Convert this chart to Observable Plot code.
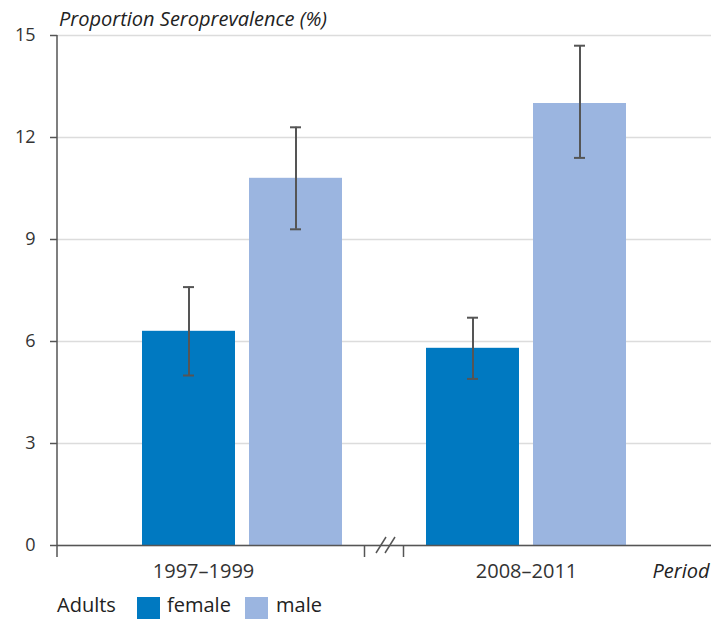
<!DOCTYPE html>
<html><head><meta charset="utf-8">
<script src="https://cdn.jsdelivr.net/npm/d3@7"></script>
<script src="https://cdn.jsdelivr.net/npm/@observablehq/plot@0.6"></script>
<style>
body{margin:0;background:#fff;font-family:"Open Sans",sans-serif;color:#222;}
#wrap{position:relative;width:711px;height:619px;overflow:hidden;}
.title{height:18px;padding-top:10px;padding-left:59px;font-size:20px;line-height:18px;font-style:italic;white-space:nowrap;color:#222;}
#chart svg{display:block;}
#legend{position:relative;height:34px;font-size:20px;}
#legend span{position:absolute;top:3px;line-height:34px;white-space:nowrap;color:#222;}
#legend i{position:absolute;top:12px;width:23px;height:22px;}
</style></head>
<body>
<div id="wrap">
  <div class="title" id="title"></div>
  <div id="chart"></div>
  <div id="legend"></div>
</div>
<script>
const periods = ["1997–1999", "2008–2011"];
const sexes = ["female", "male"];
const femaleValues = [6.3, 5.8];
const femaleLow = [5.0, 4.9];
const femaleHigh = [7.6, 6.7];
const maleValues = [10.8, 13.0];
const maleLow = [9.3, 11.4];
const maleHigh = [12.3, 14.7];
const yTicks = [0, 3, 6, 9, 12, 15];
const colors = ["#0079c1", "#9bb5e0"];
const yLabel = "Proportion Seroprevalence (%)";
const xLabel = "Period";
const legendTitle = "Adults";

const female = periods.map((p, i) => ({period: p, sex: "female", value: femaleValues[i], low: femaleLow[i], high: femaleHigh[i]}));
const male = periods.map((p, i) => ({period: p, sex: "male", value: maleValues[i], low: maleLow[i], high: maleHigh[i]}));

document.getElementById("title").textContent = yLabel;

const errStyle = {stroke: "#555", strokeWidth: 2};
const plot = Plot.plot({
  width: 711, height: 557,
  marginLeft: 57, marginRight: 0, marginTop: 7, marginBottom: 40,
  style: {fontFamily: '"Open Sans", sans-serif', fontSize: "20px", color: "#333", background: "transparent", overflow: "visible"},
  x: {type: "band", domain: periods, paddingInner: 0.2267, paddingOuter: 0.2627, axis: null},
  y: {domain: [0, 15], axis: null},
  color: {domain: sexes, range: colors},
  marks: [
    Plot.gridY(yTicks, {stroke: "#dcdcdc", strokeOpacity: 1, strokeWidth: 1.5}),
    Plot.barY(female, {x: "period", y: "value", fill: "sex", insetLeft: 10, insetRight: 117}),
    Plot.barY(male, {x: "period", y: "value", fill: "sex", insetLeft: 117, insetRight: 10}),
    Plot.ruleX(female, {x: "period", y1: "low", y2: "high", dx: -53.5, ...errStyle}),
    Plot.ruleX(male, {x: "period", y1: "low", y2: "high", dx: 53.5, ...errStyle}),
    Plot.tickY(female, {x: "period", y: "low", insetLeft: 51, insetRight: 158, ...errStyle}),
    Plot.tickY(female, {x: "period", y: "high", insetLeft: 51, insetRight: 158, ...errStyle}),
    Plot.tickY(male, {x: "period", y: "low", insetLeft: 158, insetRight: 51, ...errStyle}),
    Plot.tickY(male, {x: "period", y: "high", insetLeft: 158, insetRight: 51, ...errStyle}),
    Plot.ruleY([0], {stroke: "#555", strokeWidth: 1.5}),
    Plot.axisY({ticks: yTicks, tickSize: 7, tickPadding: 15, stroke: "#555", strokeWidth: 1.5, fill: "#333", fontSize: 18, label: null}),
    Plot.axisX({ticks: [periods[0]], tickSize: 0, tickPadding: 18, dx: -39, fill: "#333", fontSize: 20, label: null}),
    Plot.axisX({ticks: [periods[1]], tickSize: 0, tickPadding: 18, fill: "#333", fontSize: 20, label: null}),
    Plot.text([xLabel], {frameAnchor: "bottom-right", dy: 32, dx: -2, lineAnchor: "bottom", fontStyle: "italic", fontSize: 20, fill: "#222"})
  ]
});
document.getElementById("chart").appendChild(plot);

// decorations: y-axis line, break marker on x axis
const svg = d3.select(plot);
const ys = plot.scale("y"), xs = plot.scale("x");
const y0 = ys.apply(0), yTop = ys.apply(15);
const xLeft = 57;
const g = svg.append("g").attr("stroke", "#555").attr("stroke-width", 1.5).attr("fill", "none");
g.append("line").attr("x1", xLeft).attr("x2", xLeft).attr("y1", yTop).attr("y2", y0 + 12);
const mid = (xs.apply(periods[0]) + xs.bandwidth + xs.apply(periods[1])) / 2;
[-19.5, 19.5].forEach(d => g.append("line").attr("x1", mid + d).attr("x2", mid + d).attr("y1", y0).attr("y2", y0 + 12));
[-3, 6].forEach(d => g.append("line").attr("x1", mid + d - 5).attr("y1", y0 + 8).attr("x2", mid + d + 5).attr("y2", y0 - 8));

// legend
const legend = document.getElementById("legend");
const items = [
  {type: "text", text: legendTitle, left: 57},
  {type: "swatch", color: colors[0], left: 137},
  {type: "text", text: sexes[0], left: 167},
  {type: "swatch", color: colors[1], left: 245},
  {type: "text", text: sexes[1], left: 276}
];
items.forEach(it => {
  if (it.type === "text") {
    const s = document.createElement("span"); s.textContent = it.text; s.style.left = it.left + "px"; legend.appendChild(s);
  } else {
    const s = document.createElement("i"); s.style.background = it.color; s.style.left = it.left + "px"; legend.appendChild(s);
  }
});
</script>
</body></html>
